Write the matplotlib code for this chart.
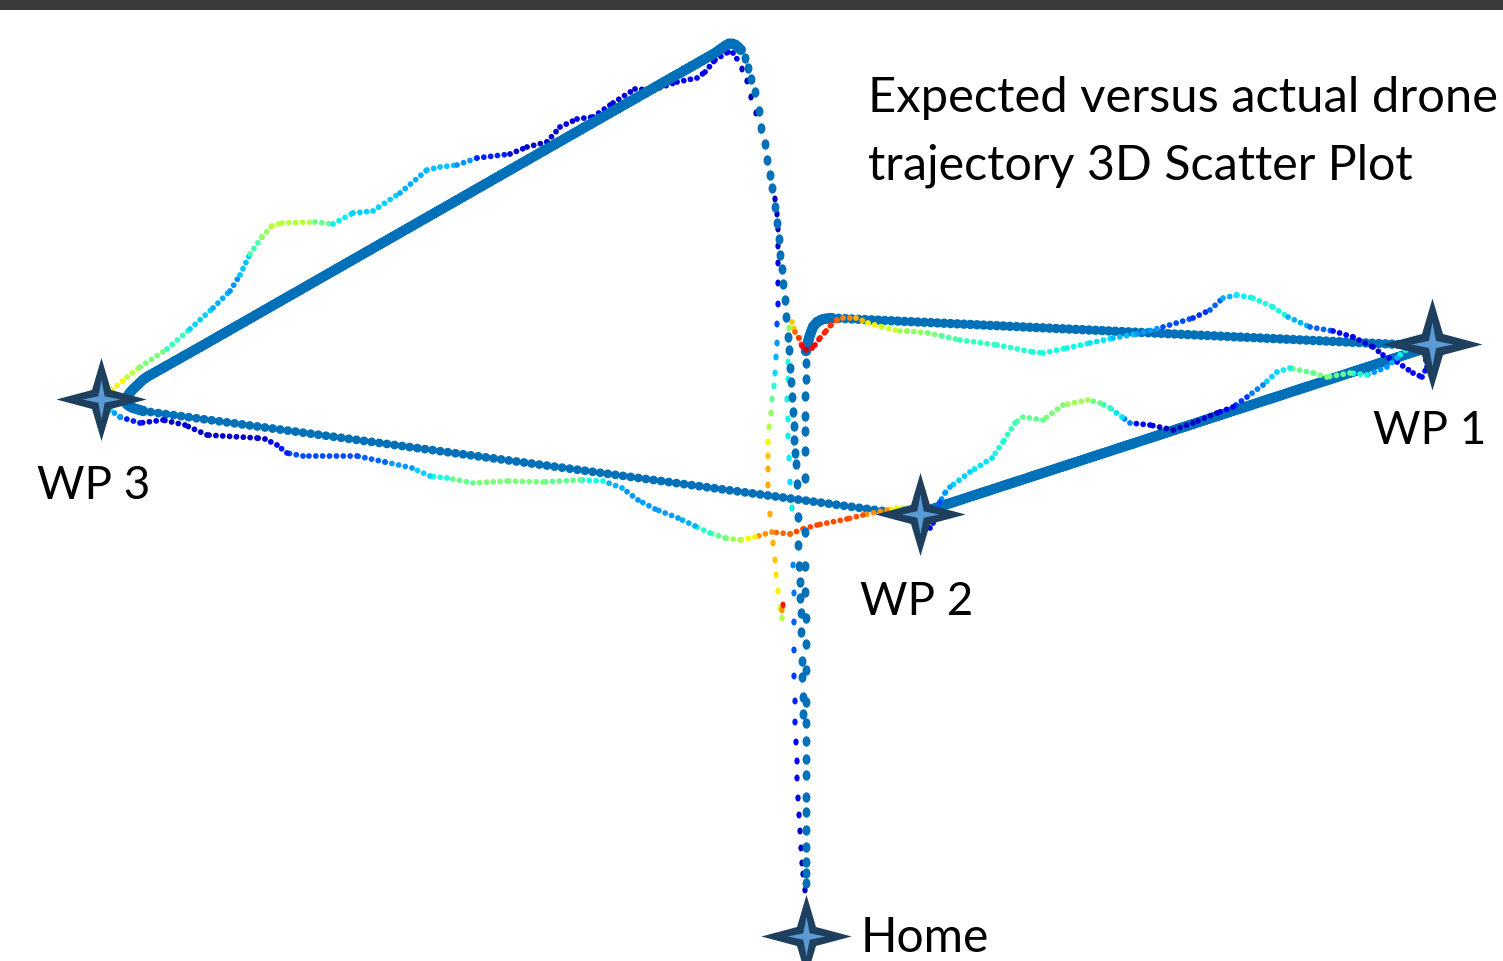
import numpy as np
import matplotlib
matplotlib.use("Agg")
import matplotlib.pyplot as plt
from matplotlib.collections import LineCollection
from matplotlib.path import Path
from matplotlib.transforms import Affine2D

# waypoints
wp_x = [1432, 920, 101, 806]
wp_y = [344, 514, 399, 936]

# expected track, single dots going up from Home
exp_up_x = [806, 806, 806, 806, 806, 806, 806, 806, 806, 806, 806, 806, 806, 806, 806, 805, 805, 805, 805, 805, 805, 805, 805, 806, 806]
exp_up_y = [883, 873, 862, 847, 830, 812, 797, 775, 759, 741, 723, 702, 670, 644, 618, 592, 566, 532, 478, 451, 431, 416, 396, 379, 363]

# expected track, the dense part after the corner
exp_corner_x = [806, 808, 810, 813, 817, 823, 832]
exp_corner_y = [351, 342, 335, 327, 322, 319, 318]
exp_leg1_x = [832, 1432]
exp_leg1_y = [318, 346]
exp_leg2_x = [1432, 920]
exp_leg2_y = [346, 513]
exp_leg3_x = [905, 143]
exp_leg3_y = [514, 411]
exp_leg4_x = [143, 133, 127, 126, 132, 145, 200, 580, 715, 725, 730, 736, 741]
exp_leg4_y = [411, 408, 405, 398, 390, 378, 347, 130, 53, 46, 43, 45, 50]

# expected track, single dots coming down from the top
exp_down_x = [745, 748, 751, 755, 759, 761, 765, 767, 770, 772, 775, 777, 779, 780, 782, 783, 785, 786, 788, 789, 790, 791, 792, 793, 794, 794, 795, 796, 797, 798, 798, 799, 800, 800, 801, 801, 802, 802, 803, 803]
exp_down_y = [58, 68, 79, 92, 111, 128, 144, 160, 175, 188, 207, 223, 239, 255, 269, 284, 300, 317, 337, 350, 368, 382, 397, 412, 426, 440, 453, 464, 484, 517, 545, 566, 582, 598, 613, 632, 661, 677, 697, 714]

# actual track, single dots going up from Home
act_up_x = [805, 803, 802, 801, 800, 799, 798, 797, 797, 796, 795, 795, 794, 794, 794, 794, 793, 792, 790, 789, 788, 788, 787, 788, 788, 789]
act_up_y = [890, 874, 863, 848, 831, 815, 798, 778, 761, 742, 722, 701, 676, 650, 622, 593, 565, 508, 482, 458, 436, 419, 399, 379, 362, 328]
act_up_v = [0.05, 0.05, 0.05, 0.06, 0.07, 0.08, 0.09, 0.1, 0.11, 0.12, 0.15, 0.16, 0.18, 0.2, 0.22, 0.24, 0.26, 0.36, 0.34, 0.36, 0.36, 0.37, 0.37, 0.37, 0.38, 0.52]

# actual track, the close dots, as a run of picked points
act_x = [792, 795, 799, 802, 806, 812, 815, 820, 826, 831, 837, 843, 856, 868, 882, 900, 907, 928, 942, 960, 997, 1033, 1043, 1067, 1090, 1113, 1137, 1163, 1193, 1210, 1223, 1237, 1253, 1273, 1288, 1310, 1333, 1353, 1373, 1383, 1397, 1413, 1422, 1427, 1425, 1420,
         1405, 1397, 1387, 1367, 1350, 1327, 1313, 1290, 1277, 1263, 1247, 1233, 1217, 1193, 1173, 1150, 1130, 1122, 1110, 1100, 1088, 1063, 1043, 1023, 1015, 1003, 992, 970, 950, 945, 940, 933, 930,
         903, 897, 887, 863, 847, 817, 803, 790, 772, 755, 740, 725, 710, 695, 678, 655, 638, 622, 603, 580, 543, 507, 473, 447, 430, 412, 385, 357, 303, 287, 277, 265, 257, 207, 185, 163, 140, 120, 110,
         112, 127, 140, 167, 190, 213, 230, 240, 250, 262, 272, 282, 315, 333, 353, 373, 400, 427, 440, 457, 477, 510, 527, 547, 560, 577, 593, 613, 635, 653, 677, 697, 705, 715, 728, 733, 737]
act_y = [322, 332, 338, 346, 350, 348, 345, 338, 331, 325, 320, 318, 318, 323, 327, 331, 331, 333, 336, 340, 345, 352, 353, 348, 343, 338, 334, 327, 318, 310, 298, 295, 298, 307, 317, 327, 331, 337, 347, 355, 362, 373, 377, 367, 355, 348,
         350, 358, 367, 375, 373, 377, 373, 368, 372, 385, 397, 407, 413, 423, 430, 425, 423, 417, 408, 403, 400, 405, 420, 417, 423, 442, 458, 472, 487, 493, 502, 523, 528,
         508, 508, 510, 515, 519, 525, 529, 534, 532, 537, 540, 538, 533, 526, 518, 509, 500, 488, 481, 480, 482, 481, 483, 478, 476, 468, 462, 456, 456, 453, 445, 439, 438, 435, 425, 420, 423, 417, 410,
         390, 377, 367, 349, 329, 308, 291, 275, 254, 237, 226, 223, 222, 224, 213, 211, 193, 170, 167, 165, 158, 154, 147, 142, 127, 119, 117, 103, 89, 90, 82, 78, 72, 60, 52, 53, 59]
act_v = [0.7, 0.8, 0.85, 0.9, 0.92, 0.9, 0.9, 0.88, 0.87, 0.85, 0.8, 0.77, 0.72, 0.65, 0.6, 0.55, 0.53, 0.5, 0.45, 0.42, 0.4, 0.38, 0.38, 0.37, 0.35, 0.31, 0.28, 0.2, 0.17, 0.22, 0.3, 0.36, 0.38, 0.38, 0.3, 0.22, 0.12, 0.08, 0.07, 0.09, 0.12, 0.12, 0.14, 0.14, 0.2, 0.45,
         0.37, 0.3, 0.27, 0.38, 0.47, 0.5, 0.48, 0.36, 0.33, 0.25, 0.18, 0.1, 0.07, 0.06, 0.06, 0.12, 0.25, 0.35, 0.42, 0.48, 0.55, 0.5, 0.47, 0.47, 0.42, 0.38, 0.35, 0.33, 0.3, 0.27, 0.2, 0.15, 0.13,
         0.55, 0.65, 0.75, 0.82, 0.83, 0.83, 0.83, 0.8, 0.75, 0.65, 0.55, 0.47, 0.4, 0.3, 0.28, 0.28, 0.27, 0.3, 0.38, 0.47, 0.5, 0.5, 0.48, 0.38, 0.33, 0.28, 0.22, 0.2, 0.2, 0.15, 0.1, 0.07, 0.06, 0.06, 0.06, 0.09, 0.15, 0.28, 0.35,
         0.65, 0.58, 0.5, 0.42, 0.33, 0.3, 0.27, 0.32, 0.44, 0.53, 0.58, 0.57, 0.48, 0.36, 0.33, 0.33, 0.3, 0.31, 0.32, 0.27, 0.16, 0.08, 0.07, 0.07, 0.08, 0.1, 0.1, 0.08, 0.08, 0.1, 0.1, 0.1, 0.1, 0.1, 0.1, 0.1, 0.08]

# actual track, single dots on the way down
act_down_x = [742, 747, 751, 756, 761, 775, 777, 778, 778, 778, 778, 778, 777, 777, 776, 775, 774, 772, 771, 769, 768, 768, 768, 768, 770, 773, 775, 776, 778, 780, 782, 782, 783]
act_down_y = [69, 81, 97, 113, 130, 199, 214, 229, 246, 263, 283, 304, 324, 343, 357, 373, 386, 399, 413, 427, 442, 456, 469, 485, 514, 543, 560, 575, 591, 608, 618, 610, 605]
act_down_v = [0.07, 0.06, 0.05, 0.05, 0.05, 0.05, 0.05, 0.05, 0.06, 0.08, 0.1, 0.14, 0.2, 0.27, 0.3, 0.34, 0.4, 0.47, 0.53, 0.57, 0.65, 0.7, 0.73, 0.73, 0.73, 0.72, 0.7, 0.67, 0.65, 0.6, 0.57, 0.75, 0.88]

BLUE = "#0071b9"

# the dots in the picture are a bit taller than wide
tall_dot = Path.unit_circle().transformed(Affine2D().scale(0.76, 1.0))
SMALL = 25  # dot area for the actual track
BIG = 56  # dot area for the expected track


def dotted(ax, xs, ys, lw_px, gap_px, z):
    # a thick track, round dots along the line
    ax.plot(xs, ys, color=BLUE, lw=lw_px * 0.72, linestyle=(0, (0.01, gap_px / lw_px)),
            dash_capstyle="round", zorder=z)


fig = plt.figure(figsize=(15.03, 9.61), dpi=100)
ax = fig.add_axes([0, 0, 1, 1])
ax.set_xlim(0, 1503)
ax.set_ylim(961, 0)
ax.axis("off")

# dark strip along the top edge
ax.axhspan(0, 10, color="#3b3b3b", lw=0, zorder=6)

# expected track
dotted(ax, exp_corner_x, exp_corner_y, 10.5, 3.0, 1)
dotted(ax, exp_leg1_x, exp_leg1_y, 9.5, 6.5, 1)
dotted(ax, exp_leg2_x, exp_leg2_y, 10.5, 3.5, 1)
dotted(ax, exp_leg3_x, exp_leg3_y, 8.8, 7.6, 1)
dotted(ax, exp_leg4_x, exp_leg4_y, 10.5, 3.5, 3)
ax.scatter(exp_up_x, exp_up_y, s=BIG, color=BLUE, marker=tall_dot, linewidths=0, zorder=3)
ax.scatter(exp_down_x, exp_down_y, s=BIG, color=BLUE, marker=tall_dot, linewidths=0, zorder=3)

# actual track, coloured by value
pts = np.column_stack([act_x, act_y])
segs = np.stack([pts[:-1], pts[1:]], axis=1)
lw_px = 5.8
lc = LineCollection(segs, cmap="jet", norm=plt.Normalize(0, 1), linewidths=lw_px * 0.72,
                    linestyles=[(0, (0.01, 6.8 / lw_px))], capstyle="round", zorder=2)
lc.set_array(np.array(act_v[:-1]))
ax.add_collection(lc)
ax.scatter(act_up_x, act_up_y, s=SMALL, c=act_up_v, cmap="jet", vmin=0, vmax=1, marker=tall_dot, linewidths=0, zorder=2)
ax.scatter(act_down_x, act_down_y, s=SMALL, c=act_down_v, cmap="jet", vmin=0, vmax=1, marker=tall_dot, linewidths=0, zorder=2)

# four point stars on the waypoints
outer = Path([(1, 0), (0.21, 0.21), (0, 0.92), (-0.21, 0.21), (-1, 0), (-0.21, -0.21), (0, -0.92), (0.21, -0.21), (1, 0)], closed=True)
inner = Path([(1, 0), (0.17, 0.17), (0, 1.05), (-0.17, 0.17), (-1, 0), (-0.17, -0.17), (0, -1.05), (0.17, -0.17), (1, 0)], closed=True)
star_size = [72, 65, 65, 65]
for i in range(len(wp_x)):
    ax.plot(wp_x[i], wp_y[i], ls="none", marker=outer, ms=star_size[i], mfc="#1f3f5f", mec="none", zorder=4)
    ax.plot(wp_x[i], wp_y[i], ls="none", marker=inner, ms=star_size[i] * 0.44, mfc="#5b9bd5", mec="none", zorder=5)

# labels
font = "Lato"
ax.text(868, 112, "Expected versus actual drone", fontsize=35.2, family=font, va="baseline", color="black")
ax.text(868, 180, "trajectory 3D Scatter Plot", fontsize=34.8, family=font, va="baseline", color="black")
ax.text(1373, 444, "WP 1", fontsize=33, family=font, va="baseline", color="black")
ax.text(860, 615, "WP 2", fontsize=33, family=font, va="baseline", color="black")
ax.text(37, 499, "WP 3", fontsize=33, family=font, va="baseline", color="black")
ax.text(861, 952, "Home", fontsize=34.5, family=font, va="baseline", color="black")

fig.savefig("out.png", dpi=100, facecolor="white")
